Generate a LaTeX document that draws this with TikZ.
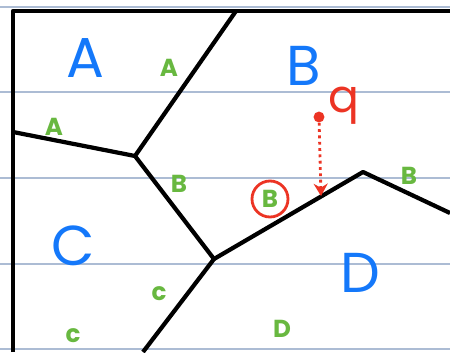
\documentclass[tikz,border=0pt]{standalone}
\usepackage{fontspec}
\setsansfont{Poppins}
\definecolor{regblue}{RGB}{20,120,250}
\definecolor{siteg}{RGB}{104,184,64}
\definecolor{qred}{RGB}{236,52,36}
\definecolor{ruleln}{RGB}{172,188,212}
\usetikzlibrary{arrows.meta,positioning}

\begin{document}
\begin{tikzpicture}[x=0.02cm, y=-0.02cm,
  region/.style={font=\sffamily\fontsize{32}{32}\selectfont, regblue},
  site/.style={font=\sffamily\bfseries\fontsize{14}{14}\selectfont, siteg},
  cell/.style={line width=2.4pt, black, line join=round}]
\useasboundingbox (0,0) rectangle (450,352);

% ruled paper
\foreach \y in {7,92,178,264,349}
  \draw[ruleln, line width=0.6pt] (0,\y) -- (450,\y);

% frame
\draw[cell] (13,352) -- (13,11) -- (450,11);

% voronoi vertices
\coordinate (top) at (236,11);
\coordinate (lft) at (13,132);
\coordinate (v1) at (135,156);
\coordinate (v2) at (214,259);
\coordinate (bot) at (143,352);
\coordinate (v3) at (363,172);
\coordinate (rgt) at (450,213);

\draw[cell] (top) -- (v1) -- (v2) -- (bot);
\draw[cell] (lft) -- (v1);
\draw[cell] (v2) -- (v3) -- (rgt);

% region names
\node[region] (rA) at (85,58) {A};
\node[region] (rB) at (304,66) {B};
\node[region] (rC) at (73,246) {C};
\node[region] (rD) at (360,273) {D};

% sites
\node[site] (a1) at (169,68) {A};
\node[site] (a2) at (54,127) {A};
\node[site] (b1) at (179,184) {B};
\node[site] (b2) at (409,176) {B};
\node[site] (b3) at (270,199) {B};
\node[site] (c1) at (159,294) {c};
\node[site] (c2) at (73,336) {c};
\node[site] (d1) at (282,329) {D};

% query point
\draw[qred, line width=1.6pt] (b3) circle (18);
\node[circle, fill=qred, inner sep=2.2pt] (qdot) at (319,117) {};
\node[qred, font=\sffamily\fontsize{26}{26}\selectfont] (qlbl) at (344,106) {q};
\coordinate (hit) at (321,196);
\draw[qred, line width=1.6pt, dotted, -{Stealth[length=7pt,width=8pt]}] (qdot) -- (hit);
\end{tikzpicture}
\end{document}
